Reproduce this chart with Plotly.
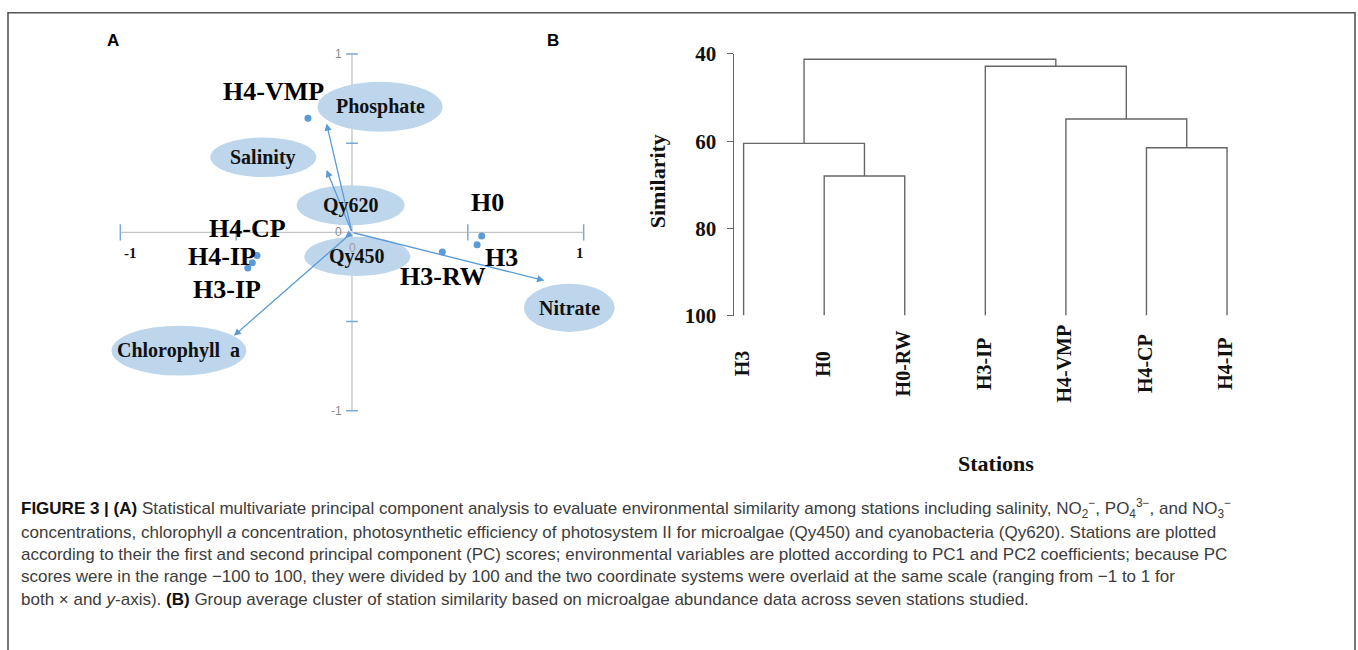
import plotly.graph_objects as go

W, H = 1358, 650

# ---------------- Panel A data (PCA biplot) ----------------
stations_pca = ["H4-VMP", "H0", "H3", "H3-RW", "H4-CP", "H4-IP", "H3-IP"]
pc1_scores = [-0.19, 0.56, 0.54, 0.39, -0.41, -0.43, -0.45]
pc2_scores = [0.64, -0.02, -0.07, -0.11, -0.13, -0.17, -0.20]

variables = ["Phosphate", "Salinity", "Qy620", "Qy450", "Nitrate", "Chlorophyll\u00a0 a"]
pc1_coef = [-0.11, -0.11, -0.01, -0.03, 0.83, -0.51]
pc2_coef = [0.61, 0.35, 0.01, -0.03, -0.27, -0.58]

axis_tick_vals = [-1, -0.5, 0.5, 1]

# ---------------- Panel B data (dendrogram) ----------------
leaves = ["H3", "H0", "H0-RW", "H3-IP", "H4-VMP", "H4-CP", "H4-IP"]
merge_names = ["C1", "C2", "C3", "C4", "C5", "C6"]
merge_left = ["H0", "H3", "H4-CP", "H4-VMP", "H3-IP", "C2"]
merge_right = ["H0-RW", "C1", "H4-IP", "C3", "C4", "C5"]
merge_height = [68.0, 60.5, 61.5, 54.9, 42.8, 41.2]
sim_ticks = [40, 60, 80, 100]

# ---------------- layout helpers (positions / styles) ----------------
SQ, OFF = 0.961, 12.1  # vertical calibration of the rendered page


def px_x(p):
    return p / W


def px_y(Y):
    d = max((Y - OFF) / SQ, 0.8)
    return 1 - d / H


station_label_pos = {  # label centres in data units
    "H4-VMP": (-0.341, 0.787), "H0": (0.587, 0.169), "H3": (0.647, -0.140),
    "H3-RW": (0.393, -0.247), "H4-CP": (-0.453, 0.022), "H4-IP": (-0.561, -0.135),
    "H3-IP": (-0.539, -0.320),
}
ellipse_geom = {  # centre x, centre y, half-width, half-height (data units)
    "Phosphate": (0.121, 0.704, 0.27, 0.14),
    "Salinity": (-0.383, 0.421, 0.229, 0.111),
    "Qy620": (-0.006, 0.152, 0.233, 0.112),
    "Qy450": (0.023, -0.135, 0.229, 0.11),
    "Nitrate": (0.938, -0.423, 0.196, 0.135),
    "Chlorophyll\u00a0 a": (-0.747, -0.663, 0.291, 0.14),
}

BLUE = "#5b9bd5"
ELL = "#bed6ec"
SERIF = "Liberation Serif"
DGRAY = "#666666"

fig = go.Figure()

# Panel A points
fig.add_trace(go.Scatter(
    x=pc1_scores, y=pc2_scores, mode="markers", xaxis="x", yaxis="y",
    marker=dict(size=7, color=BLUE), hoverinfo="text", text=stations_pca,
    showlegend=False))

shapes = []
annotations = []

# Panel A axes (drawn as shapes in data coords)
shapes.append(dict(type="line", xref="x", yref="y", x0=-1, x1=1, y0=0, y1=0,
                   line=dict(color="#c4c4c4", width=1.3), layer="below"))
shapes.append(dict(type="line", xref="x", yref="y", x0=0, x1=0, y0=-1, y1=1,
                   line=dict(color="#c4c4c4", width=1.3), layer="below"))
for t in axis_tick_vals:
    shapes.append(dict(type="line", xref="x", yref="y", x0=t, x1=t, y0=-0.045, y1=0.045,
                       line=dict(color="#7fa8d6", width=1.5), layer="below"))
    shapes.append(dict(type="line", xref="x", yref="y", x0=-0.026, x1=0.026, y0=t, y1=t,
                       line=dict(color="#7fa8d6", width=1.5), layer="below"))

# Ellipses
for name in variables:
    cx, cy, rx, ry = ellipse_geom[name]
    shapes.append(dict(type="circle", xref="x", yref="y", x0=cx - rx, x1=cx + rx,
                       y0=cy - ry, y1=cy + ry, fillcolor=ELL, line=dict(width=0),
                       layer="below"))

# y tick labels (gray) and x tick labels (bold black) for panel A
for v, txt in [(1, "1"), (0, "0"), (-1, "-1")]:
    annotations.append(dict(xref="x", yref="y", x=0, y=v, text=txt, showarrow=False,
                            xanchor="right", yanchor="middle", xshift=-8,
                            font=dict(family="Liberation Sans", size=12, color="#8c8c8c")))
annotations.append(dict(xref="x", yref="y", x=0, y=0, text="0", showarrow=False,
                        xanchor="center", yanchor="middle", yshift=-16,
                        font=dict(family="Liberation Sans", size=12, color="#a0a0a0")))
for v, txt in [(-1, "-1"), (1, "1")]:
    annotations.append(dict(xref="x", yref="y", x=v, y=0, text="<b>" + txt + "</b>",
                            showarrow=False, xanchor="center", yanchor="middle",
                            xshift=(10 if v < 0 else -4), yshift=-21,
                            font=dict(family=SERIF, size=15, color="#111")))

# Arrows (loading vectors)
for name, a, b in zip(variables, pc1_coef, pc2_coef):
    annotations.append(dict(xref="x", yref="y", axref="x", ayref="y", x=a, y=b, ax=0, ay=0,
                            text="", showarrow=True, arrowhead=2, arrowsize=1.1,
                            arrowwidth=1.3, arrowcolor=BLUE, standoff=0))

# Ellipse labels
for name in variables:
    cx, cy, rx, ry = ellipse_geom[name]
    annotations.append(dict(xref="x", yref="y", x=cx, y=cy, text="<b>" + name + "</b>",
                            showarrow=False, xanchor="center", yanchor="middle",
                            font=dict(family=SERIF, size=20, color="#111")))

# Station labels
for name in stations_pca:
    lx, ly = station_label_pos[name]
    annotations.append(dict(xref="x", yref="y", x=lx, y=ly, text="<b>" + name + "</b>",
                            showarrow=False, xanchor="center", yanchor="middle",
                            font=dict(family=SERIF, size=26, color="#000")))

# ---------------- Panel B dendrogram ----------------
xpos = {n: i for i, n in enumerate(leaves)}
ypos = {n: 100 for n in leaves}
dx, dy = [], []
for nm, l, r, h in zip(merge_names, merge_left, merge_right, merge_height):
    xl, xr = xpos[l], xpos[r]
    dx += [xl, xl, xr, xr, None]
    dy += [ypos[l], h, h, ypos[r], None]
    xpos[nm] = (xl + xr) / 2
    ypos[nm] = h

fig.add_trace(go.Scatter(x=dx, y=dy, mode="lines", xaxis="x2", yaxis="y2",
                         line=dict(color=DGRAY, width=1.4), hoverinfo="skip",
                         showlegend=False, cliponaxis=False))

for i, n in enumerate(leaves):
    annotations.append(dict(xref="x2", yref="paper", x=i, y=px_y(363), text="<b>" + n + "</b>",
                            textangle=-90, showarrow=False, xshift=-2,
                            xanchor="center", yanchor="middle",
                            font=dict(family=SERIF, size=20, color="#111")))

annotations.append(dict(xref="paper", yref="paper", x=px_x(657), y=px_y(181),
                        xanchor="center", yanchor="middle",
                        text="<b>Similarity</b>", textangle=-90, showarrow=False,
                        font=dict(family=SERIF, size=22, color="#111")))
annotations.append(dict(xref="paper", yref="paper", x=px_x(996), y=px_y(463),
                        xanchor="center", yanchor="middle",
                        text="<b>Stations</b>", showarrow=False,
                        font=dict(family=SERIF, size=22, color="#111")))

# Panel letters
annotations.append(dict(xref="paper", yref="paper", x=px_x(113), y=px_y(41), text="<b>A</b>",
                        xanchor="center", yanchor="middle", showarrow=False,
                        font=dict(family="Liberation Sans", size=17, color="#000")))
annotations.append(dict(xref="paper", yref="paper", x=px_x(553), y=px_y(41), text="<b>B</b>",
                        xanchor="center", yanchor="middle", showarrow=False,
                        font=dict(family="Liberation Sans", size=17, color="#000")))

# ---------------- Caption ----------------
caption_lines = [
    "<span style='color:#111'><b>FIGURE 3 | (A)</b></span> Statistical multivariate principal component analysis to evaluate environmental similarity among stations including salinity, NO<sub>2</sub><sup>\u2212</sup>, PO<sub>4</sub><sup>3\u2212</sup>, and NO<sub>3</sub><sup>\u2212</sup>",
    "concentrations, chlorophyll <i>a</i> concentration, photosynthetic efficiency of photosystem II for microalgae (Qy450) and cyanobacteria (Qy620). Stations are plotted",
    "according to their the first and second principal component (PC) scores; environmental variables are plotted according to PC1 and PC2 coefficients; because PC",
    "scores were in the range \u2212100 to 100, they were divided by 100 and the two coordinate systems were overlaid at the same scale (ranging from \u22121 to 1 for",
    "both \u00d7 and <i>y</i>-axis). <span style='color:#111'><b>(B)</b></span> Group average cluster of station similarity based on microalgae abundance data across seven stations studied.",
]
caption_y = [508, 531, 553, 575, 598]
for t, yy in zip(caption_lines, caption_y):
    annotations.append(dict(xref="paper", yref="paper", x=px_x(19), y=px_y(yy), xanchor="left",
                            yanchor="middle", text=t, showarrow=False, align="left",
                            font=dict(family="Liberation Sans", size=17, color="#3c3c3c")))

# Frame
shapes.append(dict(type="rect", xref="paper", yref="paper", x0=px_x(8), x1=px_x(1355),
                   y0=-0.05, y1=px_y(8), line=dict(color="#555555", width=1.6),
                   fillcolor="rgba(0,0,0,0)"))

fig.update_layout(
    width=W, height=H, autosize=False,
    margin=dict(l=0, r=0, t=0, b=0),
    paper_bgcolor="white", plot_bgcolor="rgba(0,0,0,0)",
    xaxis=dict(domain=[px_x(74), px_x(630)], range=[-1.2, 1.2], visible=False, fixedrange=True),
    yaxis=dict(domain=[px_y(427.8), px_y(27.3)], range=[-1.1, 1.15], visible=False, fixedrange=True),
    xaxis2=dict(domain=[px_x(733.7), px_x(1251.2)], range=[-0.123, 6.3], visible=False,
                anchor="y2", fixedrange=True),
    yaxis2=dict(domain=[px_y(315), px_y(54)], range=[100, 40], anchor="x2",
                showline=True, linecolor=DGRAY, linewidth=1.4, ticks="outside", ticklen=6,
                tickcolor=DGRAY, tickwidth=1.4, showgrid=False, zeroline=False,
                tickvals=sim_ticks, ticktext=["<b>%d</b>" % v for v in sim_ticks],
                tickfont=dict(family=SERIF, size=21, color="#111"), ticklabelstandoff=6,
                fixedrange=True),
    shapes=shapes, annotations=annotations,
)

page_fix = (
    "document.documentElement.style.margin='0';"
    "document.body.style.margin='0';document.body.style.overflow='hidden';"
)
fig.write_html("out.html", config={"displayModeBar": False}, post_script=page_fix)
